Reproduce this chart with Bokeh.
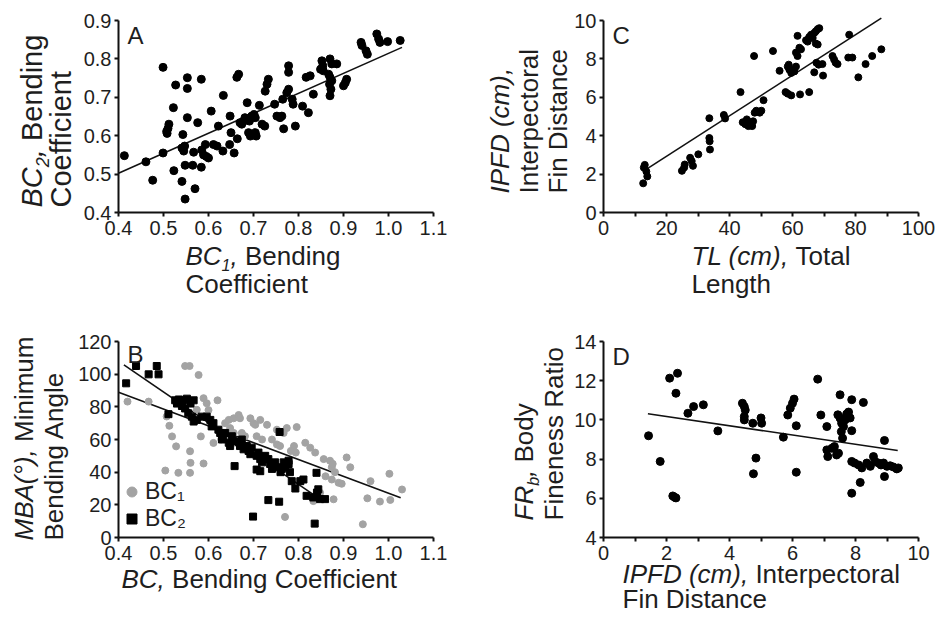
import math
from bokeh.plotting import figure
from bokeh.layouts import column, row
from bokeh.models import (Label, Legend, LegendItem, FixedTicker,
                          NumeralTickFormatter, Range1d)
from bokeh.embed import file_html
from bokeh.resources import INLINE

# ---------------- data ----------------
# Panel A: BC1 vs BC2
A_bc1 = [0.413, 0.461, 0.476, 0.499, 0.499, 0.508, 0.510, 0.512, 0.507, 0.522, 0.523, 0.527,
         0.541, 0.543, 0.541, 0.545, 0.547, 0.548, 0.548, 0.553, 0.553, 0.553, 0.567, 0.565,
         0.570, 0.576, 0.584, 0.584, 0.585, 0.589, 0.593, 0.595, 0.600, 0.606, 0.611, 0.619,
         0.622, 0.632, 0.633, 0.647, 0.648, 0.650, 0.657, 0.663, 0.667, 0.664, 0.670, 0.674,
         0.678, 0.681, 0.686, 0.689, 0.693, 0.699, 0.704, 0.706, 0.691, 0.696, 0.701, 0.704,
         0.713, 0.719, 0.725, 0.726, 0.730, 0.733, 0.747, 0.752, 0.759, 0.763, 0.767, 0.765,
         0.774, 0.778, 0.778, 0.778, 0.786, 0.788, 0.793, 0.809, 0.822, 0.817, 0.826, 0.833,
         0.852, 0.854, 0.855, 0.849, 0.870, 0.874, 0.885, 0.867, 0.870, 0.874, 0.869, 0.872,
         0.870, 0.900, 0.904, 0.907, 0.939, 0.941, 0.950, 0.953, 0.974, 0.978, 0.981, 0.998,
         1.026]
A_bc2 = [0.548, 0.532, 0.484, 0.555, 0.778, 0.606, 0.619, 0.630, 0.611, 0.673, 0.509, 0.732,
         0.481, 0.603, 0.568, 0.560, 0.573, 0.523, 0.435, 0.751, 0.723, 0.647, 0.557, 0.523,
         0.462, 0.634, 0.747, 0.518, 0.563, 0.550, 0.577, 0.546, 0.542, 0.664, 0.577, 0.573,
         0.625, 0.560, 0.705, 0.577, 0.651, 0.608, 0.555, 0.752, 0.760, 0.592, 0.634, 0.630,
         0.638, 0.647, 0.686, 0.608, 0.599, 0.603, 0.608, 0.599, 0.638, 0.651, 0.655, 0.647,
         0.679, 0.630, 0.625, 0.716, 0.734, 0.747, 0.682, 0.651, 0.647, 0.651, 0.618, 0.695,
         0.712, 0.721, 0.782, 0.765, 0.695, 0.682, 0.625, 0.677, 0.660, 0.752, 0.756, 0.708,
         0.795, 0.782, 0.769, 0.773, 0.800, 0.787, 0.787, 0.760, 0.752, 0.743, 0.734, 0.721,
         0.704, 0.730, 0.738, 0.747, 0.843, 0.835, 0.821, 0.812, 0.865, 0.852, 0.843, 0.845,
         0.848]
A_fit_x = [0.40, 1.03]
A_fit_y = [0.502, 0.830]
A_xticks = [0.4, 0.5, 0.6, 0.7, 0.8, 0.9, 1.0, 1.1]
A_yticks = [0.4, 0.5, 0.6, 0.7, 0.8, 0.9]

# Panel B: BC vs MBA
B1_bc = [0.420, 0.467, 0.548, 0.558, 0.578, 0.507, 0.513, 0.519, 0.528, 0.504, 0.533, 0.559,
         0.560, 0.559, 0.589, 0.583, 0.589, 0.596, 0.574, 0.611, 0.637, 0.645, 0.656, 0.667,
         0.670, 0.648, 0.656, 0.674, 0.681, 0.693, 0.700, 0.704, 0.715, 0.730, 0.707, 0.719,
         0.741, 0.752, 0.759, 0.774, 0.796, 0.752, 0.767, 0.790, 0.783, 0.794, 0.815, 0.826,
         0.837, 0.856, 0.870, 0.874, 0.881, 0.907, 0.915, 0.860, 0.874, 0.889, 0.960, 1.002,
         0.953, 0.981, 1.004, 1.030, 0.878, 0.770, 0.943, 0.833, 0.848, 0.620, 0.600, 0.628,
         0.660, 0.896, 0.876]
B1_mba = [83.2, 83.2, 105.0, 105.0, 99.5, 74.1, 68.4, 61.9, 55.8, 41.0, 39.6, 52.8,
          45.7, 39.6, 45.3, 61.9, 85.3, 82.2, 78.2, 57.9, 70.0, 72.0, 73.0, 75.0,
          73.0, 67.0, 64.0, 64.0, 62.0, 73.0, 70.0, 69.0, 72.0, 69.0, 62.0, 60.0,
          60.0, 57.0, 56.0, 67.0, 67.6, 66.0, 64.0, 56.0, 53.0, 52.0, 58.0, 55.0,
          52.0, 48.0, 47.0, 43.0, 40.0, 49.0, 43.0, 37.5, 35.5, 33.5, 34.5, 39.0,
          24.0, 22.0, 23.0, 29.4, 23.4, 12.6, 8.1, 22.3, 27.4, 84.0, 78.0, 60.0,
          58.0, 32.9, 45.1]
B2_bc = [0.417, 0.439, 0.467, 0.485, 0.489, 0.511, 0.526, 0.534, 0.544, 0.552, 0.567, 0.530,
         0.541, 0.548, 0.560, 0.555, 0.563, 0.574, 0.585, 0.567, 0.596, 0.604, 0.611, 0.607,
         0.622, 0.626, 0.633, 0.637, 0.630, 0.645, 0.648, 0.656, 0.652, 0.667, 0.670, 0.678,
         0.674, 0.685, 0.689, 0.696, 0.693, 0.707, 0.715, 0.719, 0.711, 0.726, 0.733, 0.737,
         0.741, 0.748, 0.756, 0.760, 0.763, 0.767, 0.770, 0.778, 0.781, 0.778, 0.658, 0.707,
         0.715, 0.758, 0.785, 0.793, 0.804, 0.811, 0.818, 0.833, 0.841, 0.844, 0.848, 0.859,
         0.840, 0.733, 0.757, 0.699, 0.836]
B2_mba = [94.4, 105.0, 99.9, 105.0, 99.9, 75.5, 84.0, 84.5, 84.0, 85.0, 84.0, 82.0,
          80.5, 79.0, 82.0, 76.0, 74.0, 72.0, 74.0, 71.0, 74.0, 72.0, 70.0, 68.0,
          66.0, 64.0, 62.0, 64.0, 60.0, 58.0, 56.0, 59.0, 62.0, 58.5, 56.0, 54.0,
          60.0, 56.0, 53.0, 55.0, 51.0, 50.0, 48.0, 46.0, 52.0, 50.0, 48.0, 45.0,
          42.0, 46.0, 43.0, 40.0, 42.0, 46.0, 43.0, 45.0, 40.0, 47.0, 43.7, 41.6,
          40.6, 64.6, 34.5, 30.0, 34.5, 35.5, 25.5, 24.5, 27.5, 29.5, 23.5, 23.5,
          39.6, 22.9, 21.9, 12.8, 8.5]
B1_fit_x = [0.400, 1.027]
B1_fit_y = [88.9, 24.3]
B2_fit_x = [0.412, 0.856]
B2_fit_y = [105.7, 22.0]
B_xticks = [0.4, 0.5, 0.6, 0.7, 0.8, 0.9, 1.0, 1.1]
B_yticks = [0, 20, 40, 60, 80, 100, 120]

# Panel C: TL vs IPFD
C_tl = [12.6, 13.1, 13.6, 13.9, 12.8, 24.9, 25.6, 25.8, 27.5, 28.4, 28.0, 30.1,
        33.6, 33.6, 33.7, 33.8, 38.2, 38.6, 43.5, 44.2, 45.0, 45.5, 46.0, 46.5,
        47.2, 47.5, 47.8, 48.0, 48.5, 49.6, 50.1, 50.8, 53.8, 55.9, 57.8, 58.5,
        59.6, 58.5, 59.0, 59.6, 58.8, 60.1, 60.6, 61.1, 61.6, 61.1, 61.6, 62.2,
        62.7, 62.4, 65.3, 64.3, 64.8, 65.3, 65.9, 66.4, 66.9, 67.4, 68.0, 68.5,
        67.4, 68.0, 66.9, 67.6, 68.3, 69.5, 69.7, 72.7, 73.2, 73.7, 74.3, 78.0,
        77.7, 79.0, 80.9, 83.2, 85.3, 88.2]
C_ipfd = [1.52, 2.48, 2.14, 1.88, 2.34, 2.17, 2.34, 2.50, 2.85, 2.43, 2.68, 3.03,
          4.91, 3.88, 3.71, 3.28, 5.08, 4.90, 6.27, 4.70, 4.60, 4.85, 4.50, 4.70,
          4.50, 4.75, 8.15, 5.20, 5.30, 5.20, 5.30, 5.85, 8.41, 7.38, 6.27, 6.19,
          6.10, 7.60, 7.44, 7.27, 7.70, 7.44, 7.35, 7.60, 9.20, 8.33, 8.15, 8.58,
          8.50, 6.15, 6.27, 8.97, 8.90, 9.14, 9.26, 9.09, 9.35, 9.44, 9.55, 9.60,
          8.80, 8.75, 7.30, 7.80, 7.70, 7.73, 7.13, 8.15, 7.97, 7.80, 7.73, 9.26,
          8.07, 8.07, 7.04, 7.73, 8.15, 8.50]
C_fit_x = [12.8, 88.2]
C_fit_y = [2.17, 10.12]
C_xticks = [0, 20, 40, 60, 80, 100]
C_xminor = [10, 30, 50, 70, 90]
C_yticks = [0, 2, 4, 6, 8, 10]

# Panel D: IPFD vs FRb
D_ipfd = [1.43, 1.80, 2.10, 2.20, 2.26, 2.30, 2.30, 2.35, 2.68, 2.86, 3.17, 3.63,
          4.41, 4.47, 4.50, 4.47, 4.47, 4.74, 4.76, 4.84, 5.00, 5.02, 5.71, 5.85,
          5.93, 6.00, 6.05, 6.12, 6.12, 6.80, 6.90, 7.09, 7.09, 7.12, 7.25, 7.33,
          7.40, 7.46, 7.51, 7.44, 7.51, 7.56, 7.62, 7.55, 7.59, 7.67, 7.72, 7.78,
          7.83, 7.88, 7.88, 7.88, 7.97, 7.88, 8.10, 8.20, 8.36, 8.47, 8.57, 8.15,
          8.25, 8.62, 8.73, 8.81, 8.89, 9.00, 9.10, 9.20, 9.31, 9.36, 8.92, 8.92]
D_frb = [9.19, 7.88, 12.13, 6.12, 6.05, 6.02, 11.36, 12.38, 10.34, 10.68, 10.77, 9.44,
         10.85, 10.68, 10.50, 10.17, 10.00, 9.83, 7.25, 8.05, 10.10, 9.83, 9.12, 10.25,
         10.60, 10.85, 11.06, 9.70, 7.33, 12.08, 10.25, 9.66, 8.47, 8.13, 8.55, 8.64,
         8.21, 8.30, 11.28, 10.26, 10.09, 9.83, 9.66, 9.40, 9.07, 10.00, 10.30, 10.40,
         10.10, 9.45, 11.03, 7.88, 7.80, 6.26, 7.70, 7.55, 7.80, 7.63, 8.13, 6.81,
         10.89, 7.88, 7.80, 7.70, 7.80, 7.63, 7.66, 7.60, 7.50, 7.55, 8.95, 7.11]
D_fit_x = [1.41, 9.34]
D_fit_y = [10.31, 8.44]
D_xticks = [0, 2, 4, 6, 8, 10]
D_xminor = [1, 3, 5, 7, 9]
D_yticks = [4, 6, 8, 10, 12, 14]

# ---------------- styling / layout ----------------
FONT = "Liberation Sans"
TXT = "#1e1e1e"
TS = 26      # axis title size
TICK = "20px"
BASE_FIX = 0.38   # empirical baseline correction (fraction of the font size)
LEFT_W, RIGHT_W = 478, 460
TOP_H, BOT_H = 315, 302

# Arial / Liberation Sans advance widths (per 1000 em)
W = {' ': 278, ',': 278, '(': 333, ')': 333, '°': 400, '.': 278,
     'A': 667, 'B': 667, 'C': 722, 'D': 722, 'F': 611, 'I': 278, 'L': 556, 'M': 833,
     'P': 667, 'R': 722, 'T': 611,
     'a': 556, 'b': 556, 'c': 500, 'd': 556, 'e': 556, 'f': 278, 'g': 556, 'h': 556,
     'i': 222, 'l': 222, 'm': 833, 'n': 556, 'o': 556, 'p': 556, 'r': 333, 's': 500,
     't': 278, 'u': 556, 'y': 500}


def tw(s, size):
    return sum(W.get(ch, 556) for ch in s) * size / 1000.0


class Panel:
    """A figure whose frame covers its whole canvas; the axes sit at fixed
    locations so that the data box lands at the wanted pixel rectangle."""

    def __init__(self, canvas, data, xr, yr, xticks, yticks, xminor=None, xfmt=None, yfmt=None):
        self.cx0, self.cy0, cw, ch = canvas
        dx0, dy0, dw, dh = data
        self.sx = (xr[1] - xr[0]) / dw
        self.sy = (yr[1] - yr[0]) / dh
        self.xs = xr[0] - (dx0 - self.cx0) * self.sx
        self.ye = yr[1] + (dy0 - self.cy0) * self.sy
        p = figure(width=cw, height=ch,
                   x_range=Range1d(self.xs, self.xs + cw * self.sx),
                   y_range=Range1d(self.ye - ch * self.sy, self.ye),
                   output_backend="svg", toolbar_location=None, min_border=0,
                   min_border_left=0, min_border_right=0, min_border_top=0, min_border_bottom=0)
        p.outline_line_color = None
        p.grid.visible = False
        xa, ya = p.xaxis[0], p.yaxis[0]
        for ax in (xa, ya):
            ax.axis_line_width = 2
            ax.axis_line_color = "#111111"
            ax.major_tick_line_width = 2
            ax.major_tick_line_color = "#111111"
            ax.major_tick_in = 0
            ax.major_tick_out = 4
            ax.minor_tick_in = 0
            ax.minor_tick_out = 4
            ax.minor_tick_line_width = 2
            ax.minor_tick_line_color = "#111111"
            ax.major_label_text_font = FONT
            ax.major_label_text_font_size = TICK
            ax.major_label_text_color = TXT
        xa.fixed_location = yr[0]
        xa.bounds = tuple(xr)
        ya.fixed_location = xr[0]
        ya.bounds = tuple(yr)
        xa.major_label_standoff = 4
        ya.major_label_standoff = 3
        xa.ticker = FixedTicker(ticks=xticks, minor_ticks=xminor or [])
        ya.ticker = FixedTicker(ticks=yticks, minor_ticks=[])
        if not xminor:
            xa.minor_tick_line_color = None
        ya.minor_tick_line_color = None
        if xfmt:
            xa.formatter = NumeralTickFormatter(format=xfmt)
        if yfmt:
            ya.formatter = NumeralTickFormatter(format=yfmt)
        self.p = p

    def x(self, px):
        return self.xs + (px - self.cx0) * self.sx

    def y(self, py):
        return self.ye - (py - self.cy0) * self.sy

    def label(self, text, px, py, size, style="normal", angle=0.0, baseline="alphabetic"):
        if baseline == "alphabetic":
            if angle:
                px -= BASE_FIX * size
            else:
                py -= BASE_FIX * size
        self.p.add_layout(Label(x=self.x(px), y=self.y(py), text=text, text_font=FONT,
                                text_font_size=f"{size}px", text_font_style=style,
                                text_color=TXT, text_align="left", text_baseline=baseline,
                                angle=angle))

    def _runs(self, runs, px, py, size, vertical):
        cur = py if vertical else px
        sub_size = round(size * 0.62)
        shift = round(size * 0.22)
        for text, style, sub in runs:
            s = sub_size if sub else size
            lead = len(text) - len(text.lstrip(" "))
            if lead:
                cur += (-1 if vertical else 1) * tw(" " * lead, s)
                text = text.lstrip(" ")
            if vertical:
                self.label(text, px + (shift if sub else 0), cur, s, style, angle=math.pi / 2)
                cur -= tw(text, s)
            else:
                self.label(text, cur, py + (shift if sub else 0), s, style)
                cur += tw(text, s)

    def runs_h(self, runs, px, py, size=TS):
        self._runs(runs, px, py, size, False)

    def runs_v(self, runs, px, py, size=TS):
        self._runs(runs, px, py, size, True)


# ---------- Panel A ----------
A = Panel((0, 0, LEFT_W, TOP_H), (118, 20, 315, 192), (0.4, 1.1), (0.4, 0.9),
          A_xticks, A_yticks, xfmt="0.0", yfmt="0.0")
A.p.line(A_fit_x, A_fit_y, line_color="#111111", line_width=1.6)
A.p.scatter(A_bc1, A_bc2, marker="circle", size=8, color="black")
A.label("A", 127, 21, 24, baseline="top")
A.runs_h([("BC", "italic", False), ("1", "italic", True), (",", "italic", False),
          (" Bending", "normal", False)], 185, 265)
A.runs_h([("Coefficient", "normal", False)], 185, 293)
A.runs_v([("BC", "italic", False), ("2", "italic", True), (",", "italic", False),
          (" Bending", "normal", False)], 43, 207, size=29)
A.runs_v([("Coefficient", "normal", False)], 72, 207, size=29)

# ---------- Panel C ----------
C = Panel((LEFT_W, 0, RIGHT_W, TOP_H), (603, 20, 315, 192), (0, 100), (0, 10),
          C_xticks, C_yticks, xminor=C_xminor)
C.p.line(C_fit_x, C_fit_y, line_color="#111111", line_width=1.6)
C.p.scatter(C_tl, C_ipfd, marker="circle", size=7, color="black")
C.label("C", 612, 21, 24, baseline="top")
C.runs_h([("TL (cm)", "italic", False), (",", "italic", False),
          (" Total", "normal", False)], 691, 265)
C.runs_h([("Length", "normal", False)], 691, 293)
C.runs_v([("IPFD (cm),", "italic", False)], 509, 193)
C.runs_v([("Interpectoral", "normal", False)], 538, 193)
C.runs_v([("Fin Distance", "normal", False)], 567, 193)

# ---------- Panel B ----------
B = Panel((0, TOP_H, LEFT_W, BOT_H), (118, 341, 315, 196), (0.4, 1.1), (0, 120),
          B_xticks, B_yticks, xfmt="0.0")
B.p.line(B1_fit_x, B1_fit_y, line_color="#111111", line_width=1.6)
B.p.line(B2_fit_x, B2_fit_y, line_color="#111111", line_width=1.6)
r1 = B.p.scatter(B1_bc, B1_mba, marker="circle", size=7, color="#a3a3a3")
r2 = B.p.scatter(B2_bc, B2_mba, marker="square", size=7, color="black")
# legend boxes: offsets from the canvas bottom-left
for item_label, rend, yoff in (("BC₁", r1, 112), ("BC₂", r2, 85)):
    lg = Legend(items=[LegendItem(label=item_label, renderers=[rend])], location=(118, yoff),
                border_line_color=None, background_fill_alpha=0, padding=0, margin=0,
                spacing=0, glyph_width=27, glyph_height=25, label_height=25,
                label_standoff=0, label_text_font=FONT, label_text_font_size="23px",
                label_text_color=TXT)
    B.p.add_layout(lg)
B.label("B", 127, 340, 24, baseline="top")
B.runs_h([("BC", "italic", False), (",", "italic", False),
          (" Bending Coefficient", "normal", False)], 121, 588)
B.runs_v([("MBA(°)", "italic", False), (",", "italic", False),
          (" Minimum", "normal", False)], 33, 540)
B.runs_v([("Bending Angle", "normal", False)], 63, 540)

# ---------- Panel D ----------
D = Panel((LEFT_W, TOP_H, RIGHT_W, BOT_H), (603, 341, 315, 196), (0, 10), (4, 14),
          D_xticks, D_yticks, xminor=D_xminor)
D.p.line(D_fit_x, D_fit_y, line_color="#111111", line_width=1.6)
D.p.scatter(D_ipfd, D_frb, marker="circle", size=8, color="black")
D.label("D", 612, 342, 24, baseline="top")
D.runs_h([("IPFD (cm)", "italic", False), (",", "italic", False),
          (" Interpectoral", "normal", False)], 622, 583)
D.runs_h([("Fin Distance", "normal", False)], 622, 608)
D.runs_v([("FR", "italic", False), ("b", "italic", True), (",", "italic", False),
          (" Body", "normal", False)], 533, 520)
D.runs_v([("Fineness Ratio", "normal", False)], 563, 520)

layout = column(row(A.p, C.p), row(B.p, D.p))
open("out.html", "w").write(file_html(layout, INLINE))
